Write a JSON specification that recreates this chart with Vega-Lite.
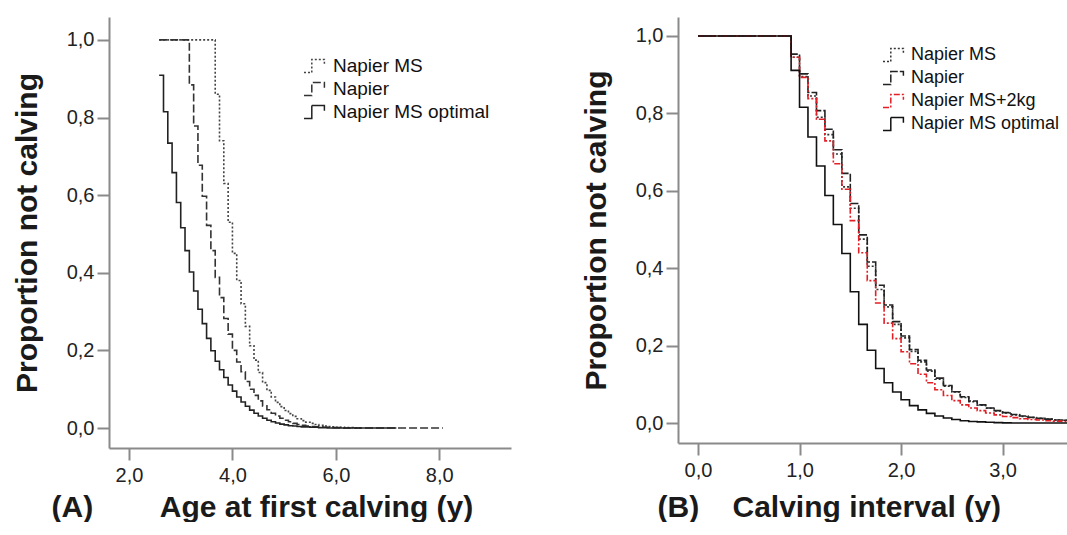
{
  "$schema": "https://vega.github.io/schema/vega-lite/v6.json",
  "padding": {"left": 11, "top": 17, "right": 0, "bottom": 0},
  "background": "white",
  "config": {
    "view": {"stroke": null},
    "axis": {
      "grid": false,
      "domainColor": "#8a8a8a", "domainWidth": 2,
      "tickColor": "#8a8a8a", "tickWidth": 2, "tickSize": 12,
      "labelFont": "Liberation Sans", "labelFontSize": 20, "labelColor": "#222222",
      "titleFont": "Liberation Sans", "titleFontSize": 30, "titleFontWeight": "bold", "titleColor": "#1a1a1a"
    },
    "legend": {
      "orient": "none", "title": null,
      "symbolType": "M-1,0.55H-0.35V-0.55H0.7V-0.1",
      "symbolSize": 576, "symbolStrokeWidth": 1.5,
      "labelFont": "Liberation Sans", "labelFontSize": 19, "labelColor": "#111111",
      "labelOffset": 4, "rowPadding": 0
    }
  },
  "datasets": {
    "a": [
      {"s": "Napier MS", "x": 2.583, "v": 1.0},
      {"s": "Napier MS", "x": 3.667, "v": 0.86},
      {"s": "Napier MS", "x": 3.75, "v": 0.74},
      {"s": "Napier MS", "x": 3.833, "v": 0.63},
      {"s": "Napier MS", "x": 3.917, "v": 0.53},
      {"s": "Napier MS", "x": 4.0, "v": 0.45},
      {"s": "Napier MS", "x": 4.083, "v": 0.38},
      {"s": "Napier MS", "x": 4.167, "v": 0.32},
      {"s": "Napier MS", "x": 4.25, "v": 0.262},
      {"s": "Napier MS", "x": 4.333, "v": 0.212},
      {"s": "Napier MS", "x": 4.417, "v": 0.175},
      {"s": "Napier MS", "x": 4.5, "v": 0.143},
      {"s": "Napier MS", "x": 4.583, "v": 0.117},
      {"s": "Napier MS", "x": 4.667, "v": 0.097},
      {"s": "Napier MS", "x": 4.75, "v": 0.08},
      {"s": "Napier MS", "x": 4.833, "v": 0.066},
      {"s": "Napier MS", "x": 4.917, "v": 0.055},
      {"s": "Napier MS", "x": 5.0, "v": 0.045},
      {"s": "Napier MS", "x": 5.083, "v": 0.037},
      {"s": "Napier MS", "x": 5.167, "v": 0.03},
      {"s": "Napier MS", "x": 5.25, "v": 0.024},
      {"s": "Napier MS", "x": 5.333, "v": 0.019},
      {"s": "Napier MS", "x": 5.417, "v": 0.015},
      {"s": "Napier MS", "x": 5.5, "v": 0.012},
      {"s": "Napier MS", "x": 5.583, "v": 0.009},
      {"s": "Napier MS", "x": 5.667, "v": 0.007},
      {"s": "Napier MS", "x": 5.75, "v": 0.005},
      {"s": "Napier MS", "x": 5.833, "v": 0.004},
      {"s": "Napier MS", "x": 5.917, "v": 0.003},
      {"s": "Napier MS", "x": 6.0, "v": 0.002},
      {"s": "Napier MS", "x": 6.167, "v": 0.001},
      {"s": "Napier MS", "x": 6.333, "v": 0.0},
      {"s": "Napier MS", "x": 6.5, "v": 0.0},
      {"s": "Napier", "x": 2.583, "v": 1.0},
      {"s": "Napier", "x": 3.167, "v": 0.884},
      {"s": "Napier", "x": 3.25, "v": 0.778},
      {"s": "Napier", "x": 3.333, "v": 0.677},
      {"s": "Napier", "x": 3.417, "v": 0.597},
      {"s": "Napier", "x": 3.5, "v": 0.522},
      {"s": "Napier", "x": 3.583, "v": 0.457},
      {"s": "Napier", "x": 3.667, "v": 0.388},
      {"s": "Napier", "x": 3.75, "v": 0.336},
      {"s": "Napier", "x": 3.833, "v": 0.282},
      {"s": "Napier", "x": 3.917, "v": 0.242},
      {"s": "Napier", "x": 4.0, "v": 0.2},
      {"s": "Napier", "x": 4.083, "v": 0.17},
      {"s": "Napier", "x": 4.167, "v": 0.145},
      {"s": "Napier", "x": 4.25, "v": 0.12},
      {"s": "Napier", "x": 4.333, "v": 0.1},
      {"s": "Napier", "x": 4.417, "v": 0.084},
      {"s": "Napier", "x": 4.5, "v": 0.07},
      {"s": "Napier", "x": 4.583, "v": 0.057},
      {"s": "Napier", "x": 4.667, "v": 0.047},
      {"s": "Napier", "x": 4.75, "v": 0.038},
      {"s": "Napier", "x": 4.833, "v": 0.031},
      {"s": "Napier", "x": 4.917, "v": 0.025},
      {"s": "Napier", "x": 5.0, "v": 0.02},
      {"s": "Napier", "x": 5.083, "v": 0.016},
      {"s": "Napier", "x": 5.167, "v": 0.012},
      {"s": "Napier", "x": 5.25, "v": 0.009},
      {"s": "Napier", "x": 5.333, "v": 0.007},
      {"s": "Napier", "x": 5.417, "v": 0.005},
      {"s": "Napier", "x": 5.5, "v": 0.004},
      {"s": "Napier", "x": 5.583, "v": 0.003},
      {"s": "Napier", "x": 5.75, "v": 0.002},
      {"s": "Napier", "x": 5.917, "v": 0.001},
      {"s": "Napier", "x": 6.083, "v": 0.0},
      {"s": "Napier", "x": 8.07, "v": 0.0},
      {"s": "Napier MS optimal", "x": 2.583, "v": 0.909},
      {"s": "Napier MS optimal", "x": 2.667, "v": 0.815},
      {"s": "Napier MS optimal", "x": 2.75, "v": 0.734},
      {"s": "Napier MS optimal", "x": 2.833, "v": 0.658},
      {"s": "Napier MS optimal", "x": 2.917, "v": 0.581},
      {"s": "Napier MS optimal", "x": 3.0, "v": 0.516},
      {"s": "Napier MS optimal", "x": 3.083, "v": 0.457},
      {"s": "Napier MS optimal", "x": 3.167, "v": 0.402},
      {"s": "Napier MS optimal", "x": 3.25, "v": 0.353},
      {"s": "Napier MS optimal", "x": 3.333, "v": 0.306},
      {"s": "Napier MS optimal", "x": 3.417, "v": 0.269},
      {"s": "Napier MS optimal", "x": 3.5, "v": 0.231},
      {"s": "Napier MS optimal", "x": 3.583, "v": 0.199},
      {"s": "Napier MS optimal", "x": 3.667, "v": 0.172},
      {"s": "Napier MS optimal", "x": 3.75, "v": 0.15},
      {"s": "Napier MS optimal", "x": 3.833, "v": 0.13},
      {"s": "Napier MS optimal", "x": 3.917, "v": 0.111},
      {"s": "Napier MS optimal", "x": 4.0, "v": 0.095},
      {"s": "Napier MS optimal", "x": 4.083, "v": 0.08},
      {"s": "Napier MS optimal", "x": 4.167, "v": 0.067},
      {"s": "Napier MS optimal", "x": 4.25, "v": 0.056},
      {"s": "Napier MS optimal", "x": 4.333, "v": 0.046},
      {"s": "Napier MS optimal", "x": 4.417, "v": 0.038},
      {"s": "Napier MS optimal", "x": 4.5, "v": 0.031},
      {"s": "Napier MS optimal", "x": 4.583, "v": 0.025},
      {"s": "Napier MS optimal", "x": 4.667, "v": 0.02},
      {"s": "Napier MS optimal", "x": 4.75, "v": 0.016},
      {"s": "Napier MS optimal", "x": 4.833, "v": 0.013},
      {"s": "Napier MS optimal", "x": 4.917, "v": 0.01},
      {"s": "Napier MS optimal", "x": 5.0, "v": 0.008},
      {"s": "Napier MS optimal", "x": 5.083, "v": 0.006},
      {"s": "Napier MS optimal", "x": 5.167, "v": 0.005},
      {"s": "Napier MS optimal", "x": 5.25, "v": 0.004},
      {"s": "Napier MS optimal", "x": 5.333, "v": 0.003},
      {"s": "Napier MS optimal", "x": 5.5, "v": 0.002},
      {"s": "Napier MS optimal", "x": 5.667, "v": 0.001},
      {"s": "Napier MS optimal", "x": 5.833, "v": 0.0},
      {"s": "Napier MS optimal", "x": 7.17, "v": 0.0}
    ],
    "b": [
      {"s": "Napier MS", "x": 0.0, "v": 1.0},
      {"s": "Napier MS", "x": 0.917, "v": 0.945},
      {"s": "Napier MS", "x": 1.0, "v": 0.895},
      {"s": "Napier MS", "x": 1.083, "v": 0.845},
      {"s": "Napier MS", "x": 1.167, "v": 0.79},
      {"s": "Napier MS", "x": 1.25, "v": 0.745},
      {"s": "Napier MS", "x": 1.333, "v": 0.695},
      {"s": "Napier MS", "x": 1.417, "v": 0.61},
      {"s": "Napier MS", "x": 1.5, "v": 0.555},
      {"s": "Napier MS", "x": 1.583, "v": 0.475},
      {"s": "Napier MS", "x": 1.667, "v": 0.405},
      {"s": "Napier MS", "x": 1.75, "v": 0.345},
      {"s": "Napier MS", "x": 1.833, "v": 0.3},
      {"s": "Napier MS", "x": 1.917, "v": 0.255},
      {"s": "Napier MS", "x": 2.0, "v": 0.22},
      {"s": "Napier MS", "x": 2.083, "v": 0.185},
      {"s": "Napier MS", "x": 2.167, "v": 0.158},
      {"s": "Napier MS", "x": 2.25, "v": 0.134},
      {"s": "Napier MS", "x": 2.333, "v": 0.113},
      {"s": "Napier MS", "x": 2.417, "v": 0.095},
      {"s": "Napier MS", "x": 2.5, "v": 0.08},
      {"s": "Napier MS", "x": 2.583, "v": 0.066},
      {"s": "Napier MS", "x": 2.667, "v": 0.055},
      {"s": "Napier MS", "x": 2.75, "v": 0.046},
      {"s": "Napier MS", "x": 2.833, "v": 0.038},
      {"s": "Napier MS", "x": 2.917, "v": 0.031},
      {"s": "Napier MS", "x": 3.0, "v": 0.026},
      {"s": "Napier MS", "x": 3.083, "v": 0.021},
      {"s": "Napier MS", "x": 3.167, "v": 0.017},
      {"s": "Napier MS", "x": 3.25, "v": 0.014},
      {"s": "Napier MS", "x": 3.333, "v": 0.012},
      {"s": "Napier MS", "x": 3.417, "v": 0.01},
      {"s": "Napier MS", "x": 3.5, "v": 0.008},
      {"s": "Napier MS", "x": 3.583, "v": 0.007},
      {"s": "Napier MS", "x": 3.667, "v": 0.006},
      {"s": "Napier MS", "x": 3.75, "v": 0.005},
      {"s": "Napier", "x": 0.0, "v": 1.0},
      {"s": "Napier", "x": 0.917, "v": 0.953},
      {"s": "Napier", "x": 1.0, "v": 0.902},
      {"s": "Napier", "x": 1.083, "v": 0.854},
      {"s": "Napier", "x": 1.167, "v": 0.807},
      {"s": "Napier", "x": 1.25, "v": 0.759},
      {"s": "Napier", "x": 1.333, "v": 0.706},
      {"s": "Napier", "x": 1.417, "v": 0.645},
      {"s": "Napier", "x": 1.5, "v": 0.567},
      {"s": "Napier", "x": 1.583, "v": 0.486},
      {"s": "Napier", "x": 1.667, "v": 0.416},
      {"s": "Napier", "x": 1.75, "v": 0.356},
      {"s": "Napier", "x": 1.833, "v": 0.305},
      {"s": "Napier", "x": 1.917, "v": 0.262},
      {"s": "Napier", "x": 2.0, "v": 0.225},
      {"s": "Napier", "x": 2.083, "v": 0.19},
      {"s": "Napier", "x": 2.167, "v": 0.162},
      {"s": "Napier", "x": 2.25, "v": 0.137},
      {"s": "Napier", "x": 2.333, "v": 0.116},
      {"s": "Napier", "x": 2.417, "v": 0.097},
      {"s": "Napier", "x": 2.5, "v": 0.081},
      {"s": "Napier", "x": 2.583, "v": 0.068},
      {"s": "Napier", "x": 2.667, "v": 0.057},
      {"s": "Napier", "x": 2.75, "v": 0.047},
      {"s": "Napier", "x": 2.833, "v": 0.039},
      {"s": "Napier", "x": 2.917, "v": 0.032},
      {"s": "Napier", "x": 3.0, "v": 0.027},
      {"s": "Napier", "x": 3.083, "v": 0.022},
      {"s": "Napier", "x": 3.167, "v": 0.018},
      {"s": "Napier", "x": 3.25, "v": 0.015},
      {"s": "Napier", "x": 3.333, "v": 0.012},
      {"s": "Napier", "x": 3.417, "v": 0.01},
      {"s": "Napier", "x": 3.5, "v": 0.008},
      {"s": "Napier", "x": 3.583, "v": 0.007},
      {"s": "Napier", "x": 3.667, "v": 0.006},
      {"s": "Napier", "x": 3.75, "v": 0.005},
      {"s": "Napier MS+2kg", "x": 0.0, "v": 1.0},
      {"s": "Napier MS+2kg", "x": 0.917, "v": 0.945},
      {"s": "Napier MS+2kg", "x": 1.0, "v": 0.893},
      {"s": "Napier MS+2kg", "x": 1.083, "v": 0.838},
      {"s": "Napier MS+2kg", "x": 1.167, "v": 0.785},
      {"s": "Napier MS+2kg", "x": 1.25, "v": 0.729},
      {"s": "Napier MS+2kg", "x": 1.333, "v": 0.67},
      {"s": "Napier MS+2kg", "x": 1.417, "v": 0.604},
      {"s": "Napier MS+2kg", "x": 1.5, "v": 0.523},
      {"s": "Napier MS+2kg", "x": 1.583, "v": 0.44},
      {"s": "Napier MS+2kg", "x": 1.667, "v": 0.368},
      {"s": "Napier MS+2kg", "x": 1.75, "v": 0.31},
      {"s": "Napier MS+2kg", "x": 1.833, "v": 0.258},
      {"s": "Napier MS+2kg", "x": 1.917, "v": 0.218},
      {"s": "Napier MS+2kg", "x": 2.0, "v": 0.184},
      {"s": "Napier MS+2kg", "x": 2.083, "v": 0.153},
      {"s": "Napier MS+2kg", "x": 2.167, "v": 0.126},
      {"s": "Napier MS+2kg", "x": 2.25, "v": 0.104},
      {"s": "Napier MS+2kg", "x": 2.333, "v": 0.086},
      {"s": "Napier MS+2kg", "x": 2.417, "v": 0.071},
      {"s": "Napier MS+2kg", "x": 2.5, "v": 0.058},
      {"s": "Napier MS+2kg", "x": 2.583, "v": 0.047},
      {"s": "Napier MS+2kg", "x": 2.667, "v": 0.039},
      {"s": "Napier MS+2kg", "x": 2.75, "v": 0.032},
      {"s": "Napier MS+2kg", "x": 2.833, "v": 0.026},
      {"s": "Napier MS+2kg", "x": 2.917, "v": 0.021},
      {"s": "Napier MS+2kg", "x": 3.0, "v": 0.017},
      {"s": "Napier MS+2kg", "x": 3.083, "v": 0.014},
      {"s": "Napier MS+2kg", "x": 3.167, "v": 0.011},
      {"s": "Napier MS+2kg", "x": 3.25, "v": 0.009},
      {"s": "Napier MS+2kg", "x": 3.333, "v": 0.008},
      {"s": "Napier MS+2kg", "x": 3.417, "v": 0.006},
      {"s": "Napier MS+2kg", "x": 3.5, "v": 0.005},
      {"s": "Napier MS+2kg", "x": 3.583, "v": 0.004},
      {"s": "Napier MS+2kg", "x": 3.667, "v": 0.004},
      {"s": "Napier MS+2kg", "x": 3.75, "v": 0.003},
      {"s": "Napier MS optimal", "x": 0.0, "v": 1.0},
      {"s": "Napier MS optimal", "x": 0.917, "v": 0.911},
      {"s": "Napier MS optimal", "x": 1.0, "v": 0.816},
      {"s": "Napier MS optimal", "x": 1.083, "v": 0.739},
      {"s": "Napier MS optimal", "x": 1.167, "v": 0.664},
      {"s": "Napier MS optimal", "x": 1.25, "v": 0.588},
      {"s": "Napier MS optimal", "x": 1.333, "v": 0.513},
      {"s": "Napier MS optimal", "x": 1.417, "v": 0.438},
      {"s": "Napier MS optimal", "x": 1.5, "v": 0.339},
      {"s": "Napier MS optimal", "x": 1.583, "v": 0.255},
      {"s": "Napier MS optimal", "x": 1.667, "v": 0.188},
      {"s": "Napier MS optimal", "x": 1.75, "v": 0.141},
      {"s": "Napier MS optimal", "x": 1.833, "v": 0.104},
      {"s": "Napier MS optimal", "x": 1.917, "v": 0.08},
      {"s": "Napier MS optimal", "x": 2.0, "v": 0.06},
      {"s": "Napier MS optimal", "x": 2.083, "v": 0.045},
      {"s": "Napier MS optimal", "x": 2.167, "v": 0.034},
      {"s": "Napier MS optimal", "x": 2.25, "v": 0.025},
      {"s": "Napier MS optimal", "x": 2.333, "v": 0.018},
      {"s": "Napier MS optimal", "x": 2.417, "v": 0.013},
      {"s": "Napier MS optimal", "x": 2.5, "v": 0.009},
      {"s": "Napier MS optimal", "x": 2.583, "v": 0.006},
      {"s": "Napier MS optimal", "x": 2.667, "v": 0.004},
      {"s": "Napier MS optimal", "x": 2.75, "v": 0.003},
      {"s": "Napier MS optimal", "x": 2.833, "v": 0.002},
      {"s": "Napier MS optimal", "x": 2.917, "v": 0.001},
      {"s": "Napier MS optimal", "x": 3.0, "v": 0.0005},
      {"s": "Napier MS optimal", "x": 3.083, "v": 0.0},
      {"s": "Napier MS optimal", "x": 3.75, "v": 0.0}
    ]
  },
  "spacing": 69,
  "resolve": {
    "scale": {"color": "independent", "strokeDash": "independent", "x": "independent", "y": "independent"},
    "legend": {"color": "independent", "strokeDash": "independent"}
  },
  "hconcat": [
    {
      "width": 402,
      "height": 431,
      "data": {"name": "a"},
      "mark": {"type": "line", "interpolate": "step-after", "strokeWidth": 1.6, "clip": true},
      "encoding": {
        "x": {
          "field": "x", "type": "quantitative",
          "scale": {"domain": [1.613, 9.387], "nice": false, "zero": false},
          "axis": {
            "values": [2, 4, 6, 8], "labelPadding": 5,
            "labelExpr": "replace(format(datum.value, '.1f'), '.', ',')",
            "title": "(A)\u00a0\u00a0\u00a0\u00a0\u00a0\u00a0\u00a0\u00a0Age at first calving (y)",
            "titleAlign": "left", "titleAnchor": "start", "titleX": -58, "titleY": 68, "titleBaseline": "alphabetic"
          }
        },
        "y": {
          "field": "v", "type": "quantitative",
          "scale": {"domain": [-0.0515, 1.059], "nice": false, "zero": false},
          "axis": {
            "values": [0, 0.2, 0.4, 0.6, 0.8, 1.0], "labelPadding": 3,
            "labelExpr": "replace(format(datum.value, '.1f'), '.', ',')",
            "title": "Proportion not calving",
            "titleX": -73, "titleBaseline": "alphabetic"
          }
        },
        "color": {
          "field": "s", "type": "nominal",
          "scale": {"domain": ["Napier MS", "Napier", "Napier MS optimal"], "range": ["#444444", "#333333", "#222222"]},
          "legend": {"legendX": 194, "legendY": 36}
        },
        "strokeDash": {
          "field": "s", "type": "nominal",
          "scale": {"domain": ["Napier MS", "Napier", "Napier MS optimal"], "range": [[2, 2], [8, 3], [1, 0]]},
          "legend": {"legendX": 194, "legendY": 36}
        }
      }
    },
    {
      "width": 391,
      "height": 426,
      "data": {"name": "b"},
      "mark": {"type": "line", "interpolate": "step-after", "strokeWidth": 1.6, "clip": true},
      "encoding": {
        "x": {
          "field": "x", "type": "quantitative",
          "scale": {"domain": [-0.197, 3.654], "nice": false, "zero": false},
          "axis": {
            "values": [0, 1, 2, 3], "labelPadding": 5,
            "labelExpr": "replace(format(datum.value, '.1f'), '.', ',')",
            "title": "(B)\u00a0\u00a0\u00a0\u00a0Calving interval (y)",
            "titleAlign": "left", "titleAnchor": "start", "titleX": -21, "titleY": 73, "titleBaseline": "alphabetic"
          }
        },
        "y": {
          "field": "v", "type": "quantitative",
          "scale": {"domain": [-0.0516, 1.049], "nice": false, "zero": false},
          "axis": {
            "values": [0, 0.2, 0.4, 0.6, 0.8, 1.0], "labelPadding": 3,
            "labelExpr": "replace(format(datum.value, '.1f'), '.', ',')",
            "title": "Proportion not calving",
            "titleX": -73, "titleBaseline": "alphabetic"
          }
        },
        "color": {
          "field": "s", "type": "nominal",
          "scale": {"domain": ["Napier MS", "Napier", "Napier MS+2kg", "Napier MS optimal"], "range": ["#333333", "#222222", "#e31e24", "#111111"]},
          "legend": {"legendX": 204, "legendY": 25, "labelFontSize": 18, "labelOffset": 3}
        },
        "strokeDash": {
          "field": "s", "type": "nominal",
          "scale": {"domain": ["Napier MS", "Napier", "Napier MS+2kg", "Napier MS optimal"], "range": [[2, 2], [8, 2], [6, 2, 2, 2], [1, 0]]},
          "legend": {"legendX": 204, "legendY": 25, "labelFontSize": 18, "labelOffset": 3}
        }
      }
    }
  ]
}
